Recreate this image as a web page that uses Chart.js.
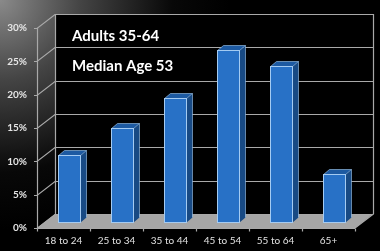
<!DOCTYPE html>
<html>
<head>
<meta charset="utf-8">
<script src="https://cdn.jsdelivr.net/npm/chart.js@4"></script>
<style>
  body { margin: 0; background: #000; }
  canvas { display: block; }
</style>
</head>
<body>
<canvas id="ageChart" width="380" height="251"></canvas>
<script>
const ageGroups = ['18 to 24', '25 to 34', '35 to 44', '45 to 54', '55 to 64', '65+'];
const audienceShare = [10.0, 14.1, 18.6, 25.8, 23.4, 7.2];
const yTicks = [0, 5, 10, 15, 20, 25, 30];
const headline = ['Adults 35-64', 'Median Age 53'];

// fake 3D: back wall offset, bar front face offset, bar depth
const WALL_DX = 18, WALL_DY = -14;
const BAR_DX = 5.5, BAR_DY = -6;
const SIDE_DX = 6, SIDE_DY = -5;
const GRID = '#a9a9a9';

function poly(ctx, pts, fill) {
  ctx.beginPath();
  ctx.moveTo(pts[0][0], pts[0][1]);
  for (let i = 1; i < pts.length; i++) ctx.lineTo(pts[i][0], pts[i][1]);
  ctx.closePath();
  ctx.fillStyle = fill;
  ctx.fill();
}

const threeD = {
  id: 'threeD',
  beforeDraw(chart) {
    const { ctx, width, height } = chart;
    const g = ctx.createRadialGradient(0, 0, 0, 0, 0, 230);
    g.addColorStop(0, '#8a8a8a');
    g.addColorStop(0.35, '#444');
    g.addColorStop(0.75, '#080808');
    g.addColorStop(1, '#000');
    ctx.save();
    ctx.fillStyle = g;
    ctx.fillRect(0, 0, width, height);
    ctx.restore();
  },
  beforeDatasetsDraw(chart) {
    const { ctx, chartArea: a, scales: { y } } = chart;
    ctx.save();
    // back wall
    ctx.fillStyle = '#000';
    ctx.fillRect(a.left + WALL_DX, a.top + WALL_DY, a.right - a.left, a.bottom - a.top);
    // floor
    poly(ctx, [[a.left, a.bottom], [a.right, a.bottom],
               [a.right + WALL_DX, a.bottom + WALL_DY], [a.left + WALL_DX, a.bottom + WALL_DY]], '#a6a6a6');
    ctx.strokeStyle = GRID;
    ctx.lineWidth = 1.2;
    yTicks.forEach(v => {
      const py = Math.round(y.getPixelForValue(v)) + 0.5;
      ctx.beginPath();
      ctx.moveTo(a.left - 3, py);
      ctx.lineTo(a.left, py);
      ctx.lineTo(a.left + WALL_DX, py + WALL_DY);
      ctx.lineTo(a.right + WALL_DX, py + WALL_DY);
      ctx.stroke();
    });
    // wall corners
    const bx = Math.round(a.left + WALL_DX) + 0.5, rx = Math.round(a.right + WALL_DX) + 0.5;
    ctx.beginPath();
    ctx.moveTo(bx, a.top + WALL_DY); ctx.lineTo(bx, a.bottom + WALL_DY);
    ctx.moveTo(rx, a.top + WALL_DY); ctx.lineTo(rx, a.bottom + WALL_DY);
    ctx.lineTo(a.right, a.bottom);
    ctx.stroke();
    ctx.restore();
  },
  afterDatasetsDraw(chart) {
    const { ctx, chartArea: a } = chart;
    const meta = chart.getDatasetMeta(0);
    ctx.save();
    meta.data.forEach(bar => {
      const { x, y: top, base, width } = bar.getProps(['x', 'y', 'base', 'width'], true);
      const l = Math.round(x - width / 2 + BAR_DX) + 0.5, r = Math.round(x + width / 2 + BAR_DX) + 0.5;
      const t = Math.round(top + BAR_DY) + 0.5, b = Math.round(base + BAR_DY) + 0.5;
      poly(ctx, [[r, t], [r + SIDE_DX, t + SIDE_DY], [r + SIDE_DX, b + SIDE_DY], [r, b]], '#184a84');
      poly(ctx, [[l, t], [l + SIDE_DX, t + SIDE_DY], [r + SIDE_DX, t + SIDE_DY], [r, t]], '#1d5aa2');
      ctx.fillStyle = '#2871c6';
      ctx.fillRect(l, t, r - l, b - t);
      ctx.strokeStyle = '#a4cbf2';
      ctx.lineWidth = 1;
      ctx.strokeRect(l, t, r - l, b - t);
      ctx.strokeStyle = 'rgba(164,203,242,0.6)';
      ctx.beginPath();
      ctx.moveTo(l, t); ctx.lineTo(l + SIDE_DX, t + SIDE_DY); ctx.lineTo(r + SIDE_DX, t + SIDE_DY);
      ctx.lineTo(r, t); ctx.moveTo(r + SIDE_DX, t + SIDE_DY); ctx.lineTo(r + SIDE_DX, b + SIDE_DY);
      ctx.stroke();
    });

    // front axes
    ctx.strokeStyle = GRID;
    ctx.lineWidth = 1.2;
    const ax = Math.round(a.left) + 0.5, ay = Math.round(a.bottom) + 0.5;
    ctx.beginPath();
    ctx.moveTo(ax, a.top); ctx.lineTo(ax, ay); ctx.lineTo(a.right, ay);
    const step = (a.right - a.left) / ageGroups.length;
    for (let i = 0; i <= ageGroups.length; i++) {
      const tx = Math.round(a.left + i * step) + 0.5;
      ctx.moveTo(tx, ay); ctx.lineTo(tx, ay + 3);
    }
    ctx.stroke();

    // headline
    ctx.fillStyle = '#fff';
    ctx.font = 'bold 15px Lato';
    ctx.textBaseline = 'middle';
    ctx.fillText(headline[0], 72, 36);
    ctx.fillText(headline[1], 72, 66);
    ctx.restore();
  }
};

new Chart(document.getElementById('ageChart'), {
  type: 'bar',
  data: {
    labels: ageGroups,
    datasets: [{
      data: audienceShare,
      backgroundColor: 'rgba(0,0,0,0)',
      borderWidth: 0,
      barPercentage: 0.42,
      categoryPercentage: 1
    }]
  },
  options: {
    responsive: false,
    animation: false,
    devicePixelRatio: 1,
    layout: { padding: { top: 28, right: 25, left: 0, bottom: 0 } },
    plugins: { legend: { display: false }, tooltip: { enabled: false } },
    scales: {
      y: {
        min: 0,
        max: 30,
        afterFit: scale => { scale.width = 37; },
        afterBuildTicks: scale => { scale.ticks = yTicks.map(v => ({ value: v })); },
        grid: { display: false, drawTicks: false },
        border: { display: false },
        ticks: {
          callback: v => v + '%',
          color: '#e6e6e6',
          padding: 10,
          font: { family: 'Lato', size: 10, weight: 'bold' }
        }
      },
      x: {
        afterFit: scale => { scale.height = 23; },
        grid: { display: false, drawTicks: false },
        border: { display: false },
        ticks: {
          color: '#e0e0e0',
          padding: 7,
          font: { family: 'Lato', size: 10 }
        }
      }
    }
  },
  plugins: [threeD]
});
</script>
</body>
</html>
